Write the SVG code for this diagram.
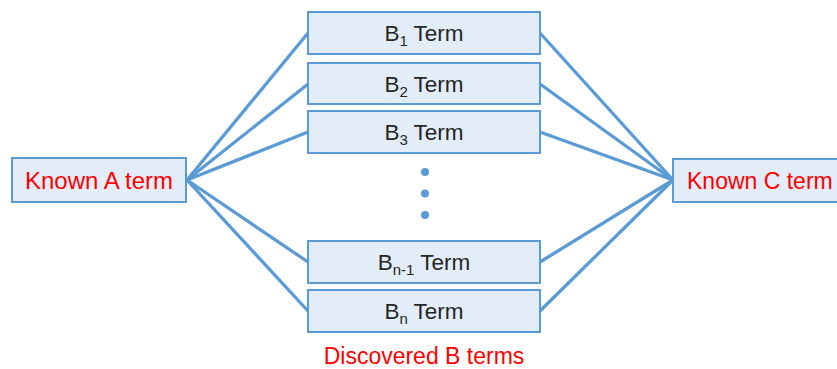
<svg xmlns="http://www.w3.org/2000/svg" width="837" height="369" viewBox="0 0 837 369">
  <style>
    .box { fill: #e3edf8; stroke: #5b9bd5; stroke-width: 2; }
    .link { stroke: #5b9bd5; stroke-width: 3.3; fill: none; }
    .dot { fill: #5b9bd5; }
    .lbl { font-family: "Liberation Sans", Arial, sans-serif; font-size: 22.5px; fill: #262626; text-anchor: middle; }
    .red { fill: #ff0000; font-size: 24px; }
    .sub { font-size: 15px; }
  </style>
  <rect width="837" height="369" fill="#ffffff"/>

  <!-- connectors: A term fans out to every B term, every B term feeds C term -->
  <g id="connectors">
    <line class="link" x1="187" y1="180" x2="308" y2="33"/>
    <line class="link" x1="187" y1="180" x2="308" y2="84"/>
    <line class="link" x1="187" y1="180" x2="308" y2="132"/>
    <line class="link" x1="187" y1="180" x2="308" y2="262"/>
    <line class="link" x1="187" y1="180" x2="308" y2="311"/>
    <line class="link" x1="540" y1="33" x2="673" y2="180"/>
    <line class="link" x1="540" y1="84" x2="673" y2="180"/>
    <line class="link" x1="540" y1="132" x2="673" y2="180"/>
    <line class="link" x1="540" y1="262" x2="673" y2="180"/>
    <line class="link" x1="540" y1="311" x2="673" y2="180"/>
  </g>

  <g id="known-a">
    <rect class="box" x="12" y="158" width="174" height="44"/>
    <text class="lbl red" x="99" y="189">Known A term</text>
  </g>

  <!-- this box runs past the right edge of the canvas -->
  <g id="known-c">
    <rect class="box" x="673" y="159" width="180" height="43"/>
    <text class="lbl red" x="687" y="189" style="text-anchor:start;font-size:23px">Known C term</text>
  </g>

  <g id="b1">
    <rect class="box" x="308" y="12" width="232" height="42"/>
    <text class="lbl" x="424" y="41">B<tspan class="sub" dy="5">1</tspan><tspan dy="-5"> Term</tspan></text>
  </g>
  <g id="b2">
    <rect class="box" x="308" y="63" width="232" height="41"/>
    <text class="lbl" x="424" y="92">B<tspan class="sub" dy="5">2</tspan><tspan dy="-5"> Term</tspan></text>
  </g>
  <g id="b3">
    <rect class="box" x="308" y="111" width="232" height="42"/>
    <text class="lbl" x="424" y="140">B<tspan class="sub" dy="5">3</tspan><tspan dy="-5"> Term</tspan></text>
  </g>

  <g id="ellipsis">
    <circle class="dot" cx="425" cy="172" r="4"/>
    <circle class="dot" cx="425" cy="193.5" r="4"/>
    <circle class="dot" cx="425" cy="215" r="4"/>
  </g>

  <g id="bn-1">
    <rect class="box" x="308" y="241" width="232" height="42"/>
    <text class="lbl" x="424" y="270">B<tspan class="sub" dy="5">n-1</tspan><tspan dy="-5"> Term</tspan></text>
  </g>
  <g id="bn">
    <rect class="box" x="308" y="290" width="232" height="42"/>
    <text class="lbl" x="424" y="319">B<tspan class="sub" dy="5">n</tspan><tspan dy="-5"> Term</tspan></text>
  </g>

  <text class="lbl red" x="424" y="364" style="font-size:23px">Discovered B terms</text>
</svg>
